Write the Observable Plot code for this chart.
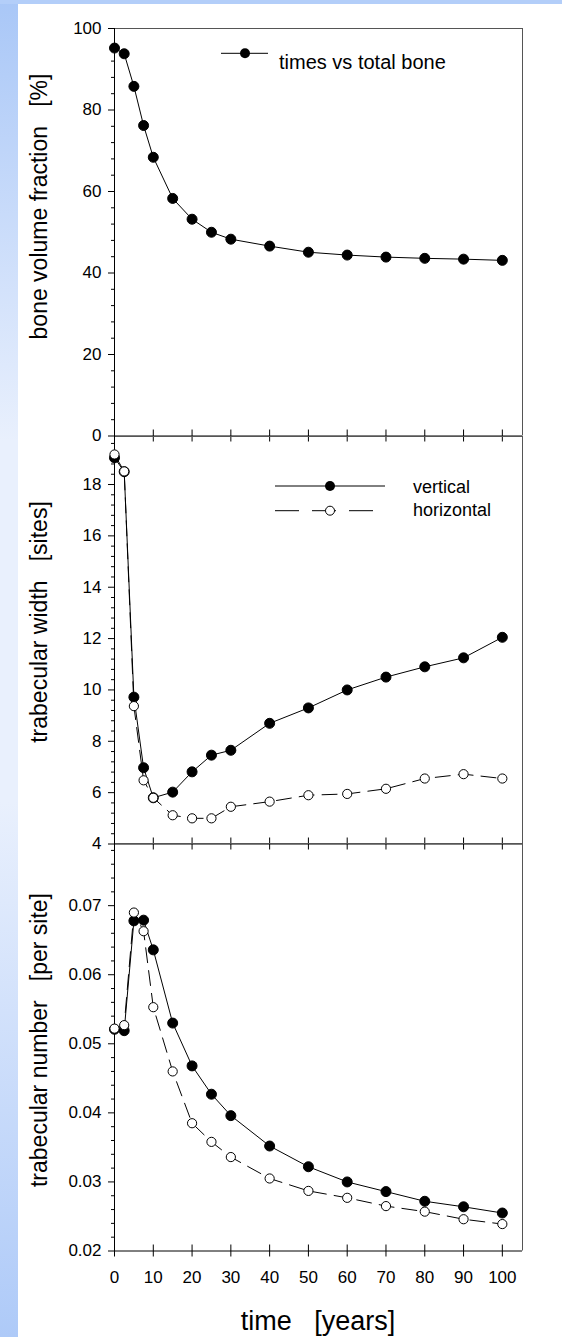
<!DOCTYPE html>
<html><head><meta charset="utf-8">
<script src="https://cdn.jsdelivr.net/npm/d3@7"></script>
<script src="https://cdn.jsdelivr.net/npm/@observablehq/plot@0.6"></script>
<style>
html,body{margin:0;padding:0;}
body{width:562px;height:1337px;position:relative;overflow:hidden;font-family:"Liberation Sans",Arial,sans-serif;
background:linear-gradient(to bottom,#a9c7f7 0%,#e9f0fd 33%,#e9f0fd 60%,#aecaf8 100%);}
#top{position:absolute;left:0;top:0;width:562px;height:4px;background:#b3cef9;}
#panel{position:absolute;left:18px;top:4px;width:544px;height:1333px;background:#fff;}
#panel svg{position:absolute;left:0;}
#panel svg text{font-size:17px !important;font-family:"Liberation Sans",Arial,sans-serif;}
#overlay{position:absolute;left:0;top:0;}
</style></head><body>
<div id="top"></div><div id="panel"></div>
<script>
// ---- data ----
const years = [0,2.5,5,7.5,10,15,20,25,30,40,50,60,70,80,90,100];
const boneVolume = [95.2,93.8,85.8,76.2,68.4,58.3,53.2,50.0,48.3,46.6,45.1,44.4,43.9,43.6,43.4,43.1];
const widthVertical = [19.04,18.5,9.72,6.97,5.8,6.02,6.81,7.46,7.65,8.7,9.3,10.0,10.5,10.9,11.25,12.05];
const widthHorizontal = [19.17,18.51,9.37,6.48,5.8,5.12,5.0,5.0,5.45,5.65,5.9,5.95,6.15,6.55,6.72,6.55];
const numberVertical = [0.0521,0.0519,0.0678,0.0679,0.0636,0.0530,0.0468,0.0427,0.0396,0.0352,0.0322,0.0300,0.0286,0.0272,0.0264,0.0255];
const numberHorizontal = [0.0522,0.0527,0.0690,0.0663,0.0553,0.0460,0.0385,0.0358,0.0336,0.0305,0.0287,0.0277,0.0265,0.0257,0.0246,0.0239];
const xTicks = [0,10,20,30,40,50,60,70,80,90,100];
const xDomain = [0,105.2];
const boneTicks = [0,20,40,60,80,100];
const widthTicks = [4,6,8,10,12,14,16,18];
const numberTicks = [0.02,0.03,0.04,0.05,0.06,0.07];
const boneDomain = [0,100];
const widthDomain = [4,19.87];
const numberDomain = [0.02,0.079];
const labels = {
  bone: "bone volume fraction   [%]",
  width: "trabecular width   [sites]",
  number: "trabecular number   [per site]",
  x: "time   [years]",
  legend1: "times vs total bone",
  vertical: "vertical",
  horizontal: "horizontal"
};

const rows = (ys) => years.map((t, i) => ({t, v: ys[i]}));
const minorTicks = (domain, step, majors) =>
  d3.range(Math.round((domain[1]-domain[0])/step)+1).map(i => +(domain[0] + i*step).toFixed(6))
    .filter(v => v <= domain[1] && !majors.some(m => Math.abs(m - v) < step/10));

const FONT = "'Liberation Sans', Arial, sans-serif";
const H = 407.5;
const container = document.getElementById("panel");

function panel({yDomain, yTicks, yMinor, fmt, series, top, mb = 10, xLabels = false}) {
  const marks = [
    Plot.ruleY(yMinor, {x1: xDomain[0], x2: xDomain[0], insetLeft: -3, insetRight: -1, stroke: "black"}),
    Plot.axisY(yTicks, {tickSize: 6, tickPadding: 7, tickFormat: fmt, label: null, fontSize: 17}),
    Plot.ruleY([yDomain[1]], {stroke: "#555"}),
    Plot.ruleX([xDomain[1]], {stroke: "#555"}),
    Plot.ruleX([xDomain[0]], {stroke: "black"}),
    Plot.ruleY([yDomain[0]], {stroke: "black"}),
    Plot.ruleX(xTicks, {y1: yDomain[0], y2: yDomain[0], insetTop: 6, insetBottom: 6, stroke: "black"})
  ];
  if (xLabels) marks.push(Plot.axisX(xTicks, {tickSize: 0, tickPadding: 20, label: null, fontSize: 17}));
  for (const s of series) {
    marks.push(Plot.line(rows(s.values), {x: "t", y: "v", stroke: "black", strokeWidth: 1, strokeDasharray: s.dash}));
    marks.push(Plot.dot(rows(s.values), {x: "t", y: "v", r: s.open ? 4.6 : 5, fill: s.open ? "white" : "black", stroke: "black", strokeWidth: 1}));
  }
  const svg = Plot.plot({
    width: 544, height: H + 10 + mb,
    marginLeft: 96, marginRight: 40, marginTop: 10, marginBottom: mb,
    x: xLabels ? {domain: xDomain} : {domain: xDomain, axis: null},
    y: {domain: yDomain},
    style: {background: "transparent", overflow: "visible", fontFamily: FONT, fontSize: "17px", color: "black"},
    marks
  });
  svg.style.top = (top - 10) + "px";
  container.appendChild(svg);
}

panel({yDomain: boneDomain, yTicks: boneTicks, yMinor: minorTicks(boneDomain, 4, boneTicks), fmt: d3.format("d"),
  series: [{values: boneVolume}], top: 24});
panel({yDomain: widthDomain, yTicks: widthTicks, yMinor: minorTicks(widthDomain, 0.4, widthTicks), fmt: d3.format("d"),
  series: [{values: widthVertical}, {values: widthHorizontal, open: true, dash: "15,8"}], top: 431.5});
panel({yDomain: numberDomain, yTicks: numberTicks, yMinor: minorTicks(numberDomain, 0.002, numberTicks), fmt: d3.format(".2f"),
  series: [{values: numberVertical}, {values: numberHorizontal, open: true, dash: "15,8"}], top: 839, mb: 86.5, xLabels: true});

// ---- overlay: axis titles and legends ----
const ov = d3.select("body").append("svg").attr("id", "overlay")
  .attr("width", 562).attr("height", 1337)
  .style("font-family", FONT).style("pointer-events", "none");
const ytitle = (txt, cy) => ov.append("text")
  .attr("transform", `translate(47,${cy}) rotate(-90)`)
  .attr("text-anchor", "middle").attr("font-size", 23).style("white-space", "pre").text(txt);
ytitle(labels.bone, 206.5);
ytitle(labels.width, 622);
ytitle(labels.number, 1040);
ov.append("text").attr("x", 318).attr("y", 1330).attr("text-anchor", "middle")
  .attr("font-size", 27).style("white-space", "pre").text(labels.x);

// legend 1
ov.append("line").attr("x1", 221).attr("x2", 268).attr("y1", 53.3).attr("y2", 53.3).attr("stroke", "black");
ov.append("circle").attr("cx", 245).attr("cy", 53.3).attr("r", 5).attr("fill", "black");
ov.append("text").attr("x", 279).attr("y", 68.5).attr("font-size", 20).text(labels.legend1);
// legend 2
ov.append("line").attr("x1", 275).attr("x2", 385).attr("y1", 486).attr("y2", 486).attr("stroke", "black");
ov.append("circle").attr("cx", 330).attr("cy", 486).attr("r", 5).attr("fill", "black");
ov.append("line").attr("x1", 275).attr("x2", 375).attr("y1", 510.7).attr("y2", 510.7).attr("stroke", "black").attr("stroke-dasharray", "24,13");
ov.append("circle").attr("cx", 330).attr("cy", 510.7).attr("r", 4.5).attr("fill", "white").attr("stroke", "black");
ov.append("text").attr("x", 413).attr("y", 493.3).attr("font-size", 18).text(labels.vertical);
ov.append("text").attr("x", 413).attr("y", 515.5).attr("font-size", 18).text(labels.horizontal);
</script>
</body></html>
